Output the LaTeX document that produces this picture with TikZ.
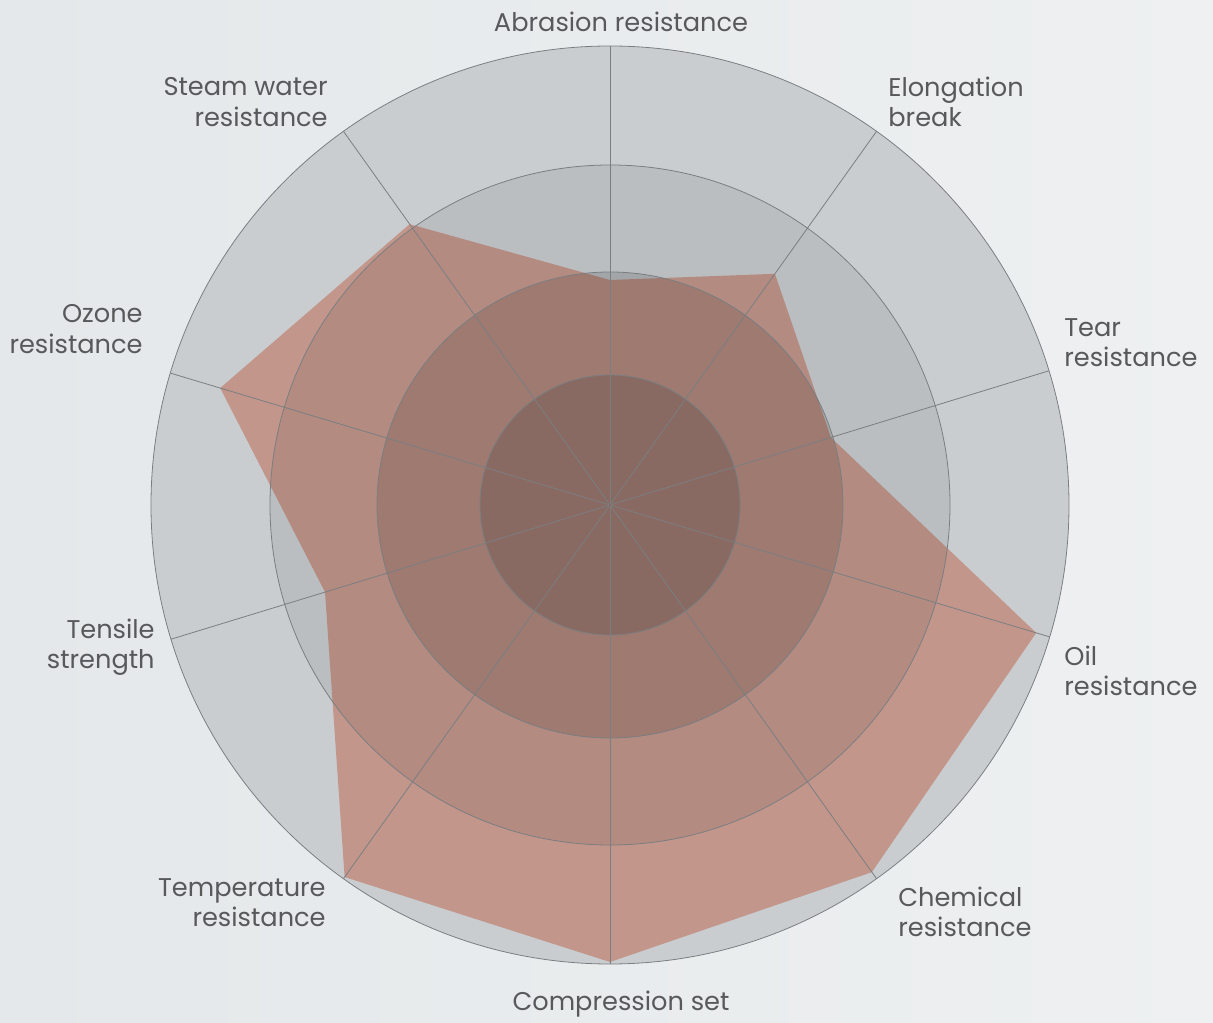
\documentclass[tikz,border=0pt]{standalone}
\usepackage{fontspec}
\setmainfont{Poppins}
\usetikzlibrary{positioning}

\definecolor{bgcol}{HTML}{E4E8EA}
\definecolor{bglight}{HTML}{EEF0F1}
\definecolor{ringcol}{HTML}{C9CDD0}
\definecolor{datacol}{HTML}{C2968B}
\definecolor{spokecol}{HTML}{7A7E81}
\definecolor{labelcol}{HTML}{58595B}

\tikzset{
  lbl/.style={font=\fontsize{14.6}{17.2}\selectfont, text=labelcol, inner sep=0pt},
  lblleft/.style={lbl, align=left, anchor=west},
  lblright/.style={lbl, align=right, anchor=east},
  ringline/.style={draw=spokecol, line width=0.45pt},
}

\begin{document}
\begin{tikzpicture}[x=0.02cm, y=0.02cm]
  \shade[left color=bgcol, right color=bglight] (-610,-518) rectangle (603,505);
  \useasboundingbox (-610,-518) rectangle (603,505);

  \node (c) at (0,0) [inner sep=0pt] {};

  % outer disc
  \fill[ringcol] (c) circle (459);

  % data polygon
  \fill[datacol] (90:225) -- (54.5:284) -- (17:231) -- (-16.7:445) -- (-54.5:451)
    -- (-90:457) -- (-125.5:457) -- (-163:298) -- (163.3:407) -- (125.5:345) -- cycle;

  % rings
  \fill[black, opacity=0.07] (c) circle (340);
  \fill[black, opacity=0.12] (c) circle (233);
  \fill[black, opacity=0.13] (c) circle (130);
  \foreach \r in {130, 233, 340, 459}
    \draw[ringline] (c) circle (\r);

  % spokes
  \foreach \a [count=\i] in {90, 54.5, 17, -16.7, -54.5, -90, -125.5, -163, 163.3, 125.5} {
    \coordinate (s\i) at (\a:459);
    \draw[ringline] (c) -- (s\i);
  }

  % labels
  \node (abr) at (11,483) [lbl] {Abrasion resistance};
  \node (elo) at (278,403) [lblleft] {Elongation\\break};
  \node (tear) at (454,162) [lblleft] {Tear\\resistance};
  \node (oil) at (454,-166) [lblleft] {Oil\\resistance};
  \node (chem) at (288,-407) [lblleft] {Chemical\\resistance};
  \node (comp) at (11,-499) [lbl] {Compression set};
  \node (temp) at (-284,-398) [lblright] {Temperature\\resistance};
  \node (tens) at (-455,-142) [lblright] {Tensile\\strength};
  \node (ozo) at (-467,176) [lblright] {Ozone\\resistance};
  \node (steam) at (-282,403) [lblright] {Steam water\\resistance};
\end{tikzpicture}
\end{document}
